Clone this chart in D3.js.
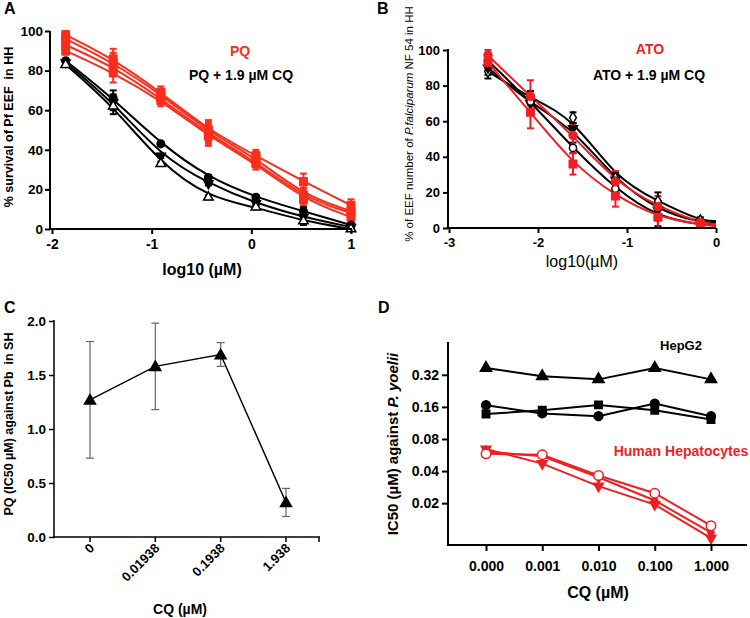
<!DOCTYPE html>
<html><head><meta charset="utf-8">
<script src="https://cdn.jsdelivr.net/npm/d3@7"></script>
<style>body{margin:0;background:#fff}svg{display:block}text{font-family:"Liberation Sans",Arial,sans-serif}</style>
</head><body>
<script>
// ---------- DATA ----------
// Panel A: log10 dose (µM), % survival of Pf EEF in HH
const aDoses = [-1.863, -1.386, -0.908, -0.431, 0.046, 0.523, 1.0];
const aPQ1 = [98, 86, 69, 50, 37, 24, 12];
const aPQ2 = [96, 84, 68, 49, 36, 17, 9];
const aPQ3 = [93, 82, 66, 48, 34, 16, 8];
const aPQ4 = [90, 79, 65, 47, 33, 15, 6];
const aPQErr = [2, 5, 3, 5, 3, 4, 3];
const aCQ1 = [85, 66, 43, 26, 16, 9, 2];
const aCQ2 = [84, 64, 37, 23, 13, 6, 1];
const aCQ3 = [83, 62, 33, 16, 11, 4, 0];
const aCQErr = [1, 4, 1, 1, 1, 2, 1];
const aXTicks = [-2, -1, 0, 1];
const aYTicks = [0, 20, 40, 60, 80, 100];

// Panel B: log10 dose (µM), % of EEF number
const bDoses = [-2.562, -2.085, -1.607, -1.130, -0.653, -0.176];
const bCurveEndX = 0;
const bATO1 = [97, 74, 52, 26, 12, 3];
const bATO2 = [93, 65, 36, 18, 6, 2];
const bATOEnd = [2, 1];
const bATOErr = [3, 9, 6, 6, 6, 2];
const bCQ1 = [88, 73, 62, 28, 15, 4];
const bCQ2 = [90, 70, 56, 27, 10, 3];
const bCQ3 = [94, 71, 45, 22, 6, 2];
const bCQEnd = [4, 3, 1.5];
const bCQErr = [4, 4, 3, 3, 5, 2];
const bXTicks = [-3, -2, -1, 0];
const bYTicks = [0, 20, 40, 60, 80, 100];

// Panel C: PQ IC50 against Pb in SH
const cCats = ["0", "0.01938", "0.1938", "1.938"];
const cVals = [1.27, 1.58, 1.69, 0.32];
const cLow = [0.73, 1.18, 1.58, 0.19];
const cHigh = [1.81, 1.98, 1.80, 0.45];
const cYTicks = [0, 0.5, 1.0, 1.5, 2.0];

// Panel D: IC50 against P. yoelii
const dCats = ["0.000", "0.001", "0.010", "0.100", "1.000"];
const dHepTri = [0.37, 0.31, 0.29, 0.37, 0.29];
const dHepCircle = [0.166, 0.139, 0.131, 0.172, 0.131];
const dHepSquare = [0.137, 0.149, 0.167, 0.149, 0.122];
const dHumOpen = [0.058, 0.057, 0.0364, 0.0248, 0.0123];
const dHumInvTri = [0.0645, 0.047, 0.0289, 0.0194, 0.0094];
const dHumDiamond = [0.061, 0.055, 0.035, 0.0212, 0.0106];
const dYTicks = [0.02, 0.04, 0.08, 0.16, 0.32];

// ---------- DRAW ----------
const RED = "#fb2d1c", RED_B = "#f01e23", BLK = "#000";
const svg = d3.select("body").append("svg").attr("width", 750).attr("height", 618);

function styleAxis(g, size, weight) {
  g.selectAll("text").attr("font-size", size).attr("font-weight", weight || "bold").attr("fill", "#000");
  g.selectAll(".tick line").attr("stroke", "#000").attr("stroke-width", 2);
  g.select(".domain").remove();
}
function hline(x1, x2, y, w) { svg.append("line").attr("x1", x1).attr("x2", x2).attr("y1", y).attr("y2", y).attr("stroke", "#000").attr("stroke-width", w); }
function vline(x, y1, y2, w) { svg.append("line").attr("x1", x).attr("x2", x).attr("y1", y1).attr("y2", y2).attr("stroke", "#000").attr("stroke-width", w); }
function txt(x, y, s, o) {
  o = o || {};
  const t = svg.append("text").attr("x", x).attr("y", y).attr("font-size", o.size || 14)
    .attr("font-weight", o.weight || "bold").attr("fill", o.fill || "#000").attr("text-anchor", o.anchor || "middle");
  if (o.rot) t.attr("transform", `rotate(${o.rot},${x},${y})`);
  t.text(s);
  return t;
}
function errBars(g, xs, ys, errs, sx, sy, color, cap, w) {
  xs.forEach((x, i) => {
    const px = sx(x), y1 = sy(ys[i] - errs[i]), y2 = sy(ys[i] + errs[i]);
    g.append("line").attr("x1", px).attr("x2", px).attr("y1", y1).attr("y2", y2).attr("stroke", color).attr("stroke-width", w);
    [y1, y2].forEach(yy => g.append("line").attr("x1", px - cap).attr("x2", px + cap).attr("y1", yy).attr("y2", yy).attr("stroke", color).attr("stroke-width", w));
  });
}
function markers(g, xs, ys, sx, sy, type, size, fill, stroke, rot) {
  const sym = d3.symbol().type(type).size(size);
  xs.forEach((x, i) => {
    g.append("path").attr("d", sym()).attr("fill", fill).attr("stroke", stroke).attr("stroke-width", 1.5)
      .attr("transform", `translate(${sx(x)},${sy(ys[i])})` + (rot ? ` rotate(${rot})` : ""));
  });
}
function curve(g, xs, ys, sx, sy, color, w) {
  const line = d3.line().x(d => sx(d[0])).y(d => sy(d[1])).curve(d3.curveBasis);
  g.append("path").attr("d", line(xs.map((x, i) => [x, ys[i]]))).attr("fill", "none").attr("stroke", color).attr("stroke-width", w);
}

// ===== Panel A =====
{
  const sx = d3.scaleLinear().domain([-2, 1]).range([52, 351]);
  const sy = d3.scaleLinear().domain([0, 100]).range([229, 31]);
  const g = svg.append("g");
  const gy = svg.append("g").attr("transform", "translate(50,0)")
    .call(d3.axisLeft(sy).tickValues(aYTicks).tickSize(5).tickPadding(2));
  styleAxis(gy, 13.5);
  const gx = svg.append("g").attr("transform", "translate(0,229)")
    .call(d3.axisBottom(sx).tickValues(aXTicks).tickFormat(d => String(d)).tickSize(5).tickPadding(5));
  styleAxis(gx, 14);
  vline(50, 31, 230, 2); hline(49, 352, 229, 2);
  [aPQ1, aPQ2, aPQ3, aPQ4].forEach(s => curve(g, aDoses, s, sx, sy, RED, 2));
  [aCQ1, aCQ2, aCQ3].forEach(s => curve(g, aDoses, s, sx, sy, BLK, 2));
  [aPQ1, aPQ2, aPQ3, aPQ4].forEach(s => errBars(g, aDoses, s, aPQErr, sx, sy, RED, 3.5, 2));
  [aCQ1, aCQ2, aCQ3].forEach(s => errBars(g, aDoses, s, aCQErr, sx, sy, BLK, 3.5, 2));
  [aPQ1, aPQ2, aPQ3, aPQ4].forEach(s => markers(g, aDoses, s, sx, sy, d3.symbolSquare, 55, RED, RED));
  markers(g, aDoses, aCQ1, sx, sy, d3.symbolCircle, 45, BLK, BLK);
  markers(g, aDoses, aCQ2, sx, sy, d3.symbolTriangle, 35, BLK, BLK, 180);
  markers(g, aDoses, aCQ3, sx, sy, d3.symbolTriangle, 40, "#fff", BLK);
  txt(4, 14, "A", { anchor: "start", size: 16 });
  txt(240, 56, "PQ", { fill: RED, size: 14 });
  txt(241, 80, "PQ + 1.9 µM CQ", { size: 14 });
  txt(202, 275, "log10 (µM)", { size: 16 });
  txt(13, 127, "% survival of Pf EEF  in HH", { size: 12.5, rot: -90 }).style("white-space", "pre");
}

// ===== Panel B =====
{
  const sx = d3.scaleLinear().domain([-3, 0]).range([449, 716]);
  const sy = d3.scaleLinear().domain([0, 100]).range([228, 50]);
  const g = svg.append("g");
  const gy = svg.append("g").attr("transform", "translate(448,0)")
    .call(d3.axisLeft(sy).tickValues(bYTicks).tickSize(5).tickPadding(3));
  styleAxis(gy, 13);
  const gx = svg.append("g").attr("transform", "translate(0,228)")
    .call(d3.axisBottom(sx).tickValues(bXTicks).tickFormat(d => String(d)).tickSize(5).tickPadding(5));
  styleAxis(gx, 13);
  vline(448, 49, 229, 2); hline(447, 716, 228, 2);
  const cx = bDoses.concat([bCurveEndX]);
  [bCQ1, bCQ2, bCQ3].forEach((s, i) => curve(g, cx, s.concat([bCQEnd[i]]), sx, sy, BLK, 2));
  [bATO1, bATO2].forEach((s, i) => curve(g, cx, s.concat([bATOEnd[i]]), sx, sy, RED_B, 2));
  [bCQ1, bCQ2, bCQ3].forEach(s => errBars(g, bDoses, s, bCQErr, sx, sy, BLK, 3.5, 2));
  [bATO1, bATO2].forEach(s => errBars(g, bDoses, s, bATOErr, sx, sy, RED_B, 3.5, 2));
  markers(g, bDoses, bCQ1, sx, sy, d3.symbolDiamond, 40, "#fff", BLK);
  markers(g, bDoses, bCQ2, sx, sy, d3.symbolTriangle, 35, BLK, BLK, 180);
  markers(g, bDoses, bCQ3, sx, sy, d3.symbolCircle, 40, "#fff", BLK);
  markers(g, bDoses, bATO1, sx, sy, d3.symbolCircle, 50, RED_B, RED_B);
  markers(g, bDoses, bATO2, sx, sy, d3.symbolSquare, 55, RED_B, RED_B);
  txt(377, 14, "B", { anchor: "start", size: 16 });
  txt(650, 54, "ATO", { fill: RED_B, size: 14 });
  txt(649, 80, "ATO + 1.9 µM CQ", { size: 14 });
  txt(582, 267, "log10(µM)", { size: 16, weight: "normal" });
  const t = svg.append("text").attr("transform", "translate(413,124) rotate(-90)")
    .attr("text-anchor", "middle").attr("font-size", 11.5).attr("fill", "#000");
  t.append("tspan").text("% of EEF number of ");
  t.append("tspan").attr("font-style", "italic").text("P.falciparum");
  t.append("tspan").text(" NF 54 in HH");
}

// ===== Panel C =====
{
  const sy = d3.scaleLinear().domain([0, 2]).range([537, 321]);
  const sx = d3.scalePoint().domain(cCats).range([90, 286]);
  const g = svg.append("g");
  const gy = svg.append("g").attr("transform", "translate(54,0)")
    .call(d3.axisLeft(sy).tickValues(cYTicks).tickFormat(d3.format(".1f")).tickSize(5).tickPadding(3));
  styleAxis(gy, 13.5);
  gy.selectAll(".tick line").attr("stroke-width", 1.5);
  vline(54, 320, 538, 1.5); hline(53, 320, 537, 1.5);
  cCats.forEach(c => vline(sx(c), 537, 542, 1.5));
  vline(319, 537, 542, 1.5);
  cCats.forEach(c => {
    const x = sx(c) + 5, y = 549;
    svg.append("text").attr("x", x).attr("y", y).attr("text-anchor", "end").attr("font-size", 13)
      .attr("font-weight", "bold").attr("transform", `rotate(-45,${x},${y})`).text(c);
  });
  const line = d3.line().x((d, i) => sx(cCats[i])).y(d => sy(d));
  g.append("path").attr("d", line(cVals)).attr("fill", "none").attr("stroke", BLK).attr("stroke-width", 1.5);
  cCats.forEach((c, i) => {
    const x = sx(c);
    g.append("line").attr("x1", x).attr("x2", x).attr("y1", sy(cLow[i])).attr("y2", sy(cHigh[i])).attr("stroke", "#666").attr("stroke-width", 1.2);
    [cLow[i], cHigh[i]].forEach(v => g.append("line").attr("x1", x - 4).attr("x2", x + 4).attr("y1", sy(v)).attr("y2", sy(v)).attr("stroke", "#666").attr("stroke-width", 1.2));
  });
  const sym = d3.symbol().type(d3.symbolTriangle).size(80);
  cCats.forEach((c, i) => g.append("path").attr("d", sym()).attr("fill", BLK).attr("transform", `translate(${sx(c)},${sy(cVals[i]) + 1})`));
  txt(4, 313, "C", { anchor: "start", size: 16 });
  txt(180, 614, "CQ (µM)", { size: 14 });
  txt(13, 424, "PQ (IC50 µM) against Pb  in SH", { size: 12.5, rot: -90 }).style("white-space", "pre");
}

// ===== Panel D =====
{
  const sy = d3.scaleLog().base(2).domain([0.0081, 0.65]).range([545, 342]);
  const sx = d3.scalePoint().domain(dCats).range([486, 711]);
  const g = svg.append("g");
  const gy = svg.append("g").attr("transform", "translate(448,0)")
    .call(d3.axisLeft(sy).tickValues(dYTicks).tickFormat(d => String(d)).tickSize(6).tickPadding(3));
  styleAxis(gy, 14);
  const gx = svg.append("g").attr("transform", "translate(0,545)")
    .call(d3.axisBottom(sx).tickSize(6).tickPadding(10));
  styleAxis(gx, 14);
  vline(448, 342, 546, 2); hline(447, 747, 545, 2);
  const line = d3.line().x((d, i) => sx(dCats[i])).y(d => sy(d));
  [dHepTri, dHepCircle, dHepSquare].forEach(s => g.append("path").attr("d", line(s)).attr("fill", "none").attr("stroke", BLK).attr("stroke-width", 2));
  [dHumOpen, dHumInvTri, dHumDiamond].forEach(s => g.append("path").attr("d", line(s)).attr("fill", "none").attr("stroke", RED_B).attr("stroke-width", 2));
  const fx = c => sx(c);
  markers(g, dCats, dHepTri, fx, sy, d3.symbolTriangle, 55, BLK, BLK);
  markers(g, dCats, dHepCircle, fx, sy, d3.symbolCircle, 60, BLK, BLK);
  markers(g, dCats, dHepSquare, fx, sy, d3.symbolSquare, 55, BLK, BLK);
  markers(g, dCats, dHumDiamond, fx, sy, d3.symbolDiamond, 35, RED_B, RED_B);
  markers(g, dCats, dHumInvTri, fx, sy, d3.symbolTriangle, 40, RED_B, RED_B, 180);
  markers(g, dCats, dHumOpen, fx, sy, d3.symbolCircle, 70, "#fff", RED_B);
  txt(378, 313, "D", { anchor: "start", size: 16 });
  txt(681, 350, "HepG2", { size: 13 });
  txt(681, 456, "Human Hepatocytes", { size: 14, fill: RED_B });
  txt(598, 598, "CQ (µM)", { size: 16 });
  const t = svg.append("text").attr("transform", "translate(398,444) rotate(-90)")
    .attr("text-anchor", "middle").attr("font-size", 15).attr("font-weight", "bold").attr("fill", "#000");
  t.append("tspan").text("IC50 (µM) against ");
  t.append("tspan").attr("font-style", "italic").text("P. yoelii");
}
</script>
</body></html>
